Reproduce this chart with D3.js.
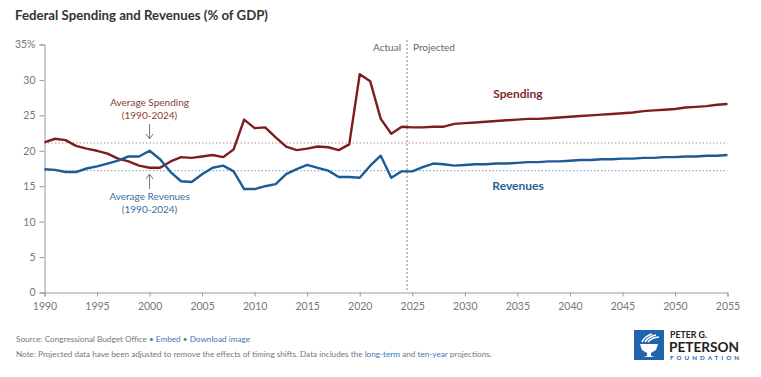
<!DOCTYPE html>
<html><head><meta charset="utf-8">
<script src="https://cdn.jsdelivr.net/npm/d3@7"></script>
<style>
body{margin:0;background:#fff;}
text{font-family:Lato,"Open Sans",sans-serif;}
</style></head>
<body><svg id="c" width="761" height="377"></svg>
<script>
const years = d3.range(1990, 2056);
const spending = [21.2,21.7,21.5,20.7,20.3,20.0,19.6,18.9,18.5,17.9,17.6,17.6,18.5,19.1,19.0,19.2,19.4,19.1,20.2,24.4,23.2,23.3,21.9,20.6,20.1,20.3,20.6,20.5,20.1,20.9,30.8,29.8,24.5,22.4,23.4,
  23.3,23.3,23.4,23.4,23.8,23.9,24.0,24.1,24.2,24.3,24.4,24.5,24.5,24.6,24.7,24.8,24.9,25.0,25.1,25.2,25.3,25.4,25.6,25.7,25.8,25.9,26.1,26.2,26.3,26.5,26.6];
const revenues = [17.4,17.3,17.0,17.0,17.5,17.8,18.2,18.6,19.2,19.2,20.0,18.8,17.0,15.7,15.6,16.7,17.6,17.9,17.1,14.6,14.6,15.0,15.3,16.7,17.4,18.0,17.6,17.2,16.3,16.3,16.2,17.9,19.3,16.2,17.1,
  17.1,17.7,18.2,18.1,17.9,18.0,18.1,18.1,18.2,18.2,18.3,18.4,18.4,18.5,18.5,18.6,18.7,18.7,18.8,18.8,18.9,18.9,19.0,19.0,19.1,19.1,19.2,19.2,19.3,19.3,19.4];
const averages = {spending: 21.1, revenues: 17.2};
const yTicks = [0,5,10,15,20,25,30,35];
const xTicks = d3.range(1990, 2056, 5);
const splitYear = 2024.5;

const svg = d3.select("#c");
const x = d3.scaleLinear().domain([1990, 2055]).range([44.5, 727.5]);
const y = d3.scaleLinear().domain([0, 35]).range([292.5, 44.5]);
const red = "#7f1d1d", blue = "#1c5b96";

svg.append("text").attr("x",15).attr("y",20).text("Federal Spending and Revenues (% of GDP)")
  .attr("font-size",14).attr("font-weight",700).attr("fill","#333")
  .attr("textLength",253).attr("lengthAdjust","spacingAndGlyphs");

// axes
const ya = svg.append("g").attr("transform","translate(44.5,0)")
  .call(d3.axisLeft(y).tickValues(yTicks).tickSize(5).tickPadding(4).tickFormat(d=> d===35? d+"%": d));
const xa = svg.append("g").attr("transform","translate(0,292.5)")
  .call(d3.axisBottom(x).tickValues(xTicks).tickSize(4).tickPadding(6).tickFormat(d3.format("d")));
[ya,xa].forEach(a=>{
  a.selectAll("path,line").attr("stroke","#9a9a9a");
  a.selectAll("text").attr("fill","#777").attr("font-size",10.5).attr("font-family","Lato, sans-serif");
});

// averages
svg.append("line").attr("x1",x(1990)).attr("x2",x(2055)).attr("y1",y(averages.spending)).attr("y2",y(averages.spending))
  .attr("stroke","#c08a8a").attr("stroke-width",1.2).attr("stroke-dasharray","1.5,2");
svg.append("line").attr("x1",x(1990)).attr("x2",x(2055)).attr("y1",y(averages.revenues)).attr("y2",y(averages.revenues))
  .attr("stroke","#8fb0cf").attr("stroke-width",1.2).attr("stroke-dasharray","1.5,2");

// split line
svg.append("line").attr("x1",x(splitYear)).attr("x2",x(splitYear)).attr("y1",40).attr("y2",292)
  .attr("stroke","#999").attr("stroke-width",1.2).attr("stroke-dasharray","2,2");
svg.append("text").attr("x",x(splitYear)-6).attr("y",51).attr("text-anchor","end").text("Actual").attr("font-size",10).attr("fill","#666");
svg.append("text").attr("x",x(splitYear)+6).attr("y",51).text("Projected").attr("font-size",10).attr("fill","#666");

const line = d3.line().x((d,i)=>x(years[i])).y(d=>y(d));
[[spending,red],[revenues,blue]].forEach(([s,c])=>{
  svg.append("path").attr("d",line(s)).attr("fill","none").attr("stroke",c).attr("stroke-width",2.4).attr("stroke-linejoin","round");
});

// annotations
const ax = x(2000);
svg.append("text").attr("x",ax).attr("y",106).attr("text-anchor","middle").text("Average Spending").attr("font-size",10).attr("fill","#8a3a3a");
svg.append("text").attr("x",ax).attr("y",119).attr("text-anchor","middle").text("(1990-2024)").attr("font-size",10).attr("fill","#8a3a3a");
svg.append("line").attr("x1",ax).attr("x2",ax).attr("y1",124).attr("y2",138).attr("stroke","#777").attr("stroke-width",1);
svg.append("path").attr("d",`M${ax-3.5},${134}L${ax},${139}L${ax+3.5},${134}`).attr("fill","none").attr("stroke","#777");
svg.append("text").attr("x",ax).attr("y",200).attr("text-anchor","middle").text("Average Revenues").attr("font-size",10).attr("fill","#3a6fa0");
svg.append("text").attr("x",ax).attr("y",213).attr("text-anchor","middle").text("(1990-2024)").attr("font-size",10).attr("fill","#3a6fa0");
svg.append("line").attr("x1",ax).attr("x2",ax).attr("y1",175).attr("y2",189).attr("stroke","#777").attr("stroke-width",1);
svg.append("path").attr("d",`M${ax-3.5},${179}L${ax},${174}L${ax+3.5},${179}`).attr("fill","none").attr("stroke","#777");

svg.append("text").attr("x",518).attr("y",98).attr("text-anchor","middle").text("Spending").attr("font-size",12).attr("font-weight",700).attr("fill","#7f2a2a");
svg.append("text").attr("x",518).attr("y",190).attr("text-anchor","middle").text("Revenues").attr("font-size",12).attr("font-weight",700).attr("fill","#2a5f92");

// footer
const f1 = svg.append("text").attr("x",16).attr("y",342).attr("font-size",8.2).attr("fill","#777");
f1.append("tspan").text("Source: Congressional Budget Office • ");
f1.append("tspan").attr("fill","#3a78b5").text("Embed");
f1.append("tspan").text("  • ");
f1.append("tspan").attr("fill","#3a78b5").text("Download image");
const f2 = svg.append("text").attr("x",16).attr("y",357).attr("font-size",8.2).attr("fill","#777");
f2.append("tspan").text("Note: Projected data have been adjusted to remove the effects of timing shifts. Data includes the ");
f2.append("tspan").attr("fill","#3a78b5").text("long-term");
f2.append("tspan").text(" and ");
f2.append("tspan").attr("fill","#3a78b5").text("ten-year");
f2.append("tspan").text(" projections.");

// logo
const lg = svg.append("g");
lg.append("rect").attr("x",634).attr("y",330).attr("width",30).attr("height",30).attr("fill","#1f64ad");
// torch bowl
lg.append("path").attr("d","M640,344 L658,344 L656,350 L651,353 L651,356 L655,357 L643,357 L647,356 L647,353 L642,350 Z").attr("fill","#fff");
// flame stripes
[[642,342,652,334],[645,342,656,335],[648,342,659,337]].forEach(([a,b,c,d])=>{
  lg.append("path").attr("d",`M${a},${b} Q${(a+c)/2-2},${(b+d)/2-2} ${c},${d}`).attr("fill","none").attr("stroke","#fff").attr("stroke-width",1.6);
});
lg.append("text").attr("x",670).attr("y",338).text("PETER G.").attr("font-size",9).attr("font-weight",700).attr("fill","#222")
  .attr("font-family","'Open Sans',sans-serif").attr("textLength",37).attr("lengthAdjust","spacingAndGlyphs");
lg.append("text").attr("x",669).attr("y",351.5).text("PETERSON").attr("font-size",14).attr("font-weight",700).attr("fill","#222")
  .attr("font-family","'Open Sans',sans-serif").attr("textLength",70).attr("lengthAdjust","spacingAndGlyphs");
lg.append("text").attr("x",670).attr("y",359.5).text("FOUNDATION").attr("font-size",6.2).attr("font-weight",700).attr("fill","#1f64ad")
  .attr("font-family","'Open Sans',sans-serif").attr("textLength",69).attr("lengthAdjust","spacing");
</script></body></html>
